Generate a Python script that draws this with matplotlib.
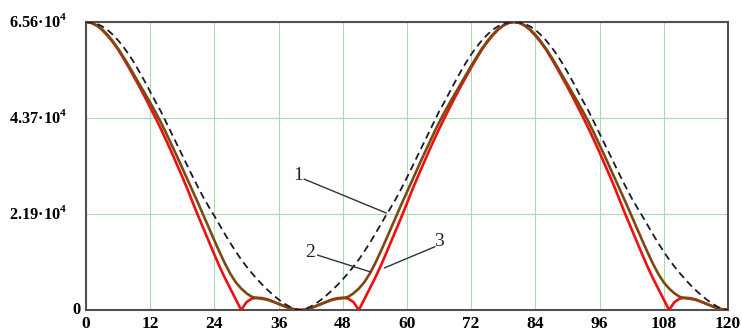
import numpy as np
import matplotlib
matplotlib.use("Agg")
import matplotlib.pyplot as plt
import matplotlib.transforms as mtransforms

plt.rcParams['mathtext.fontset'] = 'custom'
plt.rcParams['mathtext.rm'] = 'Liberation Serif:bold'
plt.rcParams['mathtext.bf'] = 'Liberation Serif:bold'

# angle axis, 0..120 step 1
x = np.arange(0, 121)

# curve 1 (dashed black)
curve1 = [65600, 65500, 65200, 64600, 63800, 62700, 61400, 59900, 58200, 56300, 54200,
          52000, 49700, 47400, 45200, 42700, 40200, 37700, 35200, 32700, 30200,
          27800, 25500, 23400, 21400, 19300, 17200, 15200, 13300, 11500, 9900,
          8400, 7000, 5700, 4500, 3400, 2400, 1500, 800, 200, 0,
          200, 800, 1500, 2400, 3400, 4500, 5700, 7000, 8400, 9900,
          11500, 13300, 15200, 17200, 19300, 21400, 23400, 25500, 27800, 30200,
          32700, 35200, 37700, 40200, 42700, 45200, 47400, 49700, 52000, 54200,
          56300, 58200, 59900, 61400, 62700, 63800, 64600, 65200, 65500, 65600,
          65500, 65200, 64600, 63800, 62700, 61400, 59900, 58200, 56300, 54200,
          52000, 49700, 47400, 45200, 42700, 40200, 37700, 35200, 32700, 30200,
          27800, 25500, 23400, 21400, 19300, 17200, 15200, 13300, 11500, 9900,
          8400, 7000, 5700, 4500, 3400, 2400, 1500, 800, 200, 0]

# curve 2 (brown)
curve2 = [65600, 65400, 64800, 63900, 62700, 61200, 59500, 57600, 55600, 53500, 51400,
          49300, 47200, 45000, 42700, 40200, 37600, 35000, 32300, 29600, 26900,
          24200, 21400, 18600, 15800, 13100, 10500, 8200, 6300, 4900, 3800,
          3000, 2700, 2550, 2300, 1900, 1400, 900, 450, 120, 0,
          120, 450, 900, 1400, 1900, 2300, 2550, 2700, 3000, 3800,
          4900, 6300, 8200, 10500, 13100, 15800, 18600, 21400, 24200, 26900,
          29600, 32300, 35000, 37600, 40200, 42700, 45000, 47200, 49300, 51400,
          53500, 55600, 57600, 59500, 61200, 62700, 63900, 64800, 65400, 65600,
          65400, 64800, 63900, 62700, 61200, 59500, 57600, 55600, 53500, 51400,
          49300, 47200, 45000, 42700, 40200, 37600, 35000, 32300, 29600, 26900,
          24200, 21400, 18600, 15800, 13100, 10500, 8200, 6300, 4900, 3800,
          3000, 2700, 2550, 2300, 1900, 1400, 900, 450, 120, 0]

# curve 3 (red)
curve3 = [65600, 65400, 64800, 63800, 62500, 61000, 59300, 57300, 55200, 53000, 50800,
          48500, 46100, 43700, 41200, 38600, 35900, 33100, 30300, 27400, 24300,
          21300, 18400, 15500, 12600, 9800, 7200, 4800, 2400, 0, 1800,
          2600, 2800, 2700, 2400, 1900, 1400, 900, 450, 120, 0,
          120, 450, 900, 1400, 1900, 2400, 2700, 2800, 2600, 1800,
          0, 2400, 4800, 7200, 9800, 12600, 15500, 18400, 21300, 24300,
          27400, 30300, 33100, 35900, 38600, 41200, 43700, 46100, 48500, 50800,
          53000, 55200, 57300, 59300, 61000, 62500, 63800, 64800, 65400, 65600,
          65400, 64800, 63800, 62500, 61000, 59300, 57300, 55200, 53000, 50800,
          48500, 46100, 43700, 41200, 38600, 35900, 33100, 30300, 27400, 24300,
          21300, 18400, 15500, 12600, 9800, 7200, 4800, 2400, 0, 1800,
          2600, 2800, 2700, 2400, 1900, 1400, 900, 450, 120, 0]

x_ticks = [0, 12, 24, 36, 48, 60, 72, 84, 96, 108, 120]
y_ticks = [0, 21900, 43700, 65600]
y_labels = ['0', '2.19·10$^4$', '4.37·10$^4$', '6.56·10$^4$']

# callouts: label, text pos, line start, line end
callouts = [('1', (39.6, 30700), (40.8, 29800), (56.1, 22100)),
            ('2', (41.9, 13000), (43.3, 12500), (53.1, 8700)),
            ('3', (66.0, 15500), (65.2, 14400), (55.8, 9600))]

fig = plt.figure(figsize=(7.42, 3.33), dpi=100)
ax = fig.add_axes([0.116, 0.069, 0.865, 0.865])

ax.plot(x, curve3, color='#ee1010', lw=1.9, zorder=3)
ax.plot(x, curve2, color='#7a4a12', lw=1.9, zorder=4)
ax.plot(x, curve1, color='#1a1a2a', lw=1.3, ls=(0, (4, 2.5)), zorder=5)

ax.set_xlim(0, 120)
ax.set_ylim(0, 65600)
ax.set_xticks(x_ticks)
ax.set_yticks(y_ticks)
ax.set_xticklabels([str(v) for v in x_ticks], family='Liberation Serif',
                   fontweight='bold', fontsize=12.5)
ax.set_yticklabels([])
ax.tick_params(length=0, pad=4)
ax.grid(True, color='#a8dca8', lw=0.8, zorder=0)

for s in ax.spines.values():
    s.set_color('#505050')
    s.set_linewidth(1.5)

# y labels drawn as text so the "0" sits closer to the axis like the original
tr = mtransforms.blended_transform_factory(ax.transAxes, ax.transData)
for v, lab in zip(y_ticks, y_labels):
    xoff = -0.009 if lab == '0' else -0.03
    ax.text(xoff, v, lab, transform=tr, ha='right', va='center',
            family='Liberation Serif', fontweight='bold', fontsize=11.8)

for lab, tpos, p0, p1 in callouts:
    ax.text(tpos[0], tpos[1], lab, family='Liberation Serif', fontsize=14,
            ha='center', va='center', color='#222222', zorder=6)
    ax.plot([p0[0], p1[0]], [p0[1], p1[1]], color='#333333', lw=1.0, zorder=6)

fig.savefig('out.png', dpi=100)
